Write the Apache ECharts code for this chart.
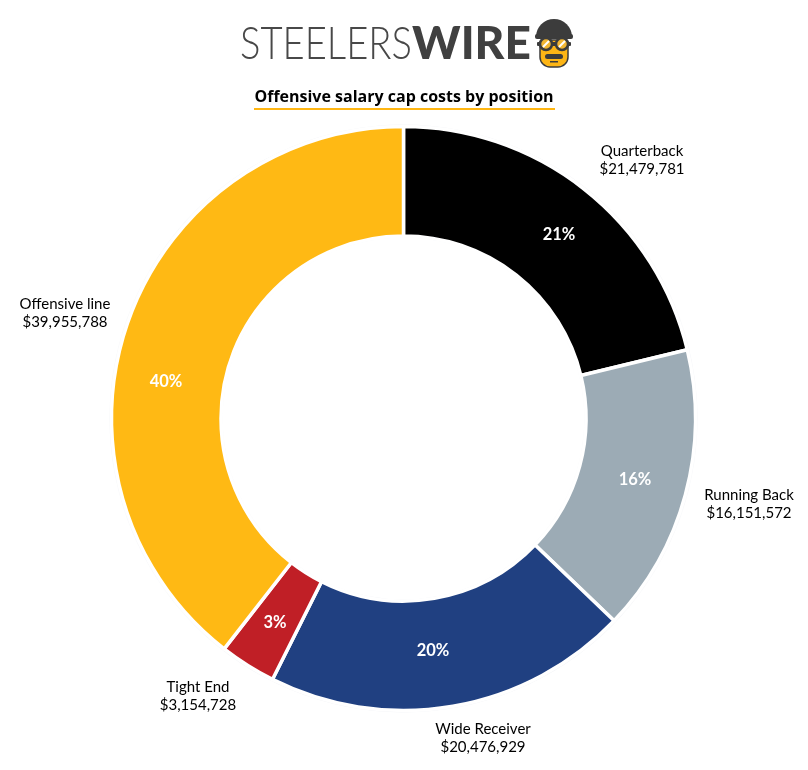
<!DOCTYPE html>
<html><head><meta charset="utf-8">
<style>html,body{margin:0;padding:0;background:#fff}#c{width:808px;height:770px}</style>
<script src="https://cdn.jsdelivr.net/npm/echarts@6/dist/echarts.min.js"></script>
</head><body><div id="c"></div>
<script>
const categories = ['Quarterback','Running Back','Wide Receiver','Tight End','Offensive line'];
const amounts = [21479781,16151572,20476929,3154728,39955788];
const amountLabels = ['$21,479,781','$16,151,572','$20,476,929','$3,154,728','$39,955,788'];
const percentLabels = ['21%','16%','20%','3%','40%'];
const colors = ['#000000','#9CABB5','#204081','#C01F26','#FFB914'];
const title = 'Offensive salary cap costs by position';
const labelCentres = [[642,160],[749,504],[483,738],[198,696],[65,313]];
const percentCentres = [[559,235],[635,480],[433,651],[275,623],[166,382]];

const chart = echarts.init(document.getElementById('c'),null,{renderer:'canvas'});
const center=[403.5,418.5];
const bodyFont='Lato';
const dark='#3C3C3C';
chart.setOption({
  animation:false,
  backgroundColor:'#fff',
  series:[
    {type:'pie',silent:true,center,radius:[181,294],startAngle:90,label:{show:false},labelLine:{show:false},
     data:[{value:1,itemStyle:{color:'#F3F4F7'}}]},
    {type:'pie',silent:true,center,radius:[182.5,292],startAngle:90,clockwise:true,
     data:amounts.map((v,i)=>({value:v,name:categories[i],itemStyle:{color:colors[i],borderColor:'#fff',borderWidth:3.5}})),
     label:{show:true,position:'inside',overflow:'none',formatter:p=>percentLabels[p.dataIndex],color:'#fff',fontFamily:bodyFont,fontWeight:'bold',fontSize:16.5},
     labelLine:{show:false},
     labelLayout:p=>({x:percentCentres[p.dataIndex][0],y:percentCentres[p.dataIndex][1],align:'center',verticalAlign:'middle'})},
    {type:'pie',silent:true,center,radius:[182.5,292],startAngle:90,clockwise:true,
     data:amounts.map((v,i)=>({value:v,name:categories[i],itemStyle:{color:'transparent',borderWidth:0}})),
     label:{show:true,position:'outside',overflow:'none',width:200,formatter:p=>categories[p.dataIndex]+'\n'+amountLabels[p.dataIndex],color:'#000',fontFamily:bodyFont,fontSize:15,lineHeight:18,align:'center',verticalAlign:'middle'},
     labelLine:{show:false},
     labelLayout:p=>({x:labelCentres[p.dataIndex][0],y:labelCentres[p.dataIndex][1],align:'center',verticalAlign:'middle',hideOverlap:false,moveOverlap:false})}
  ],
  graphic:[
    {type:'text',x:240,y:44,scaleX:0.83,style:{x:0,y:0,text:'STEELERS',fontFamily:'Lato',fontWeight:300,fontSize:46,fill:'#484848',verticalAlign:'middle'}},
    {type:'text',x:412,y:44,style:{x:0,y:0,text:'WIRE',fontFamily:'Lato',fontWeight:900,fontSize:46,fill:'#404040',verticalAlign:'middle'}},
    {type:'text',style:{x:404,y:97,text:title,fontFamily:'Open Sans',fontWeight:'bold',fontSize:16,fill:'#000',align:'center',verticalAlign:'middle'}},
    {type:'rect',shape:{x:254,y:108,width:301,height:2},style:{fill:'#FFB612'}},
    // mascot: helmet, brim, face, goggles, moustache
    {type:'rect',shape:{x:540,y:40,width:28,height:27,r:[3,3,10,10]},style:{fill:'#FDB515',stroke:dark,lineWidth:1.5}},
    {type:'sector',shape:{cx:554,cy:37,r:18,r0:0,startAngle:Math.PI,endAngle:2*Math.PI},style:{fill:dark}},
    {type:'rect',shape:{x:535,y:34,width:38,height:5,r:2},style:{fill:dark}},
    {type:'rect',shape:{x:537,y:42,width:34,height:4,r:1},style:{fill:dark}},
    {type:'circle',shape:{cx:546,cy:44,r:6},style:{fill:'#F2B632',stroke:dark,lineWidth:2.5}},
    {type:'circle',shape:{cx:562,cy:44,r:6},style:{fill:'#F2B632',stroke:dark,lineWidth:2.5}},
    {type:'line',shape:{x1:543,y1:47,x2:549,y2:41},style:{stroke:'#fff',lineWidth:2}},
    {type:'line',shape:{x1:559,y1:47,x2:565,y2:41},style:{stroke:'#fff',lineWidth:2}},
    {type:'rect',shape:{x:545,y:54,width:18,height:5,r:2.5},style:{fill:dark}},
    {type:'rect',shape:{x:550,y:61,width:8,height:1.5},style:{fill:dark}}
  ]
});
</script></body></html>
